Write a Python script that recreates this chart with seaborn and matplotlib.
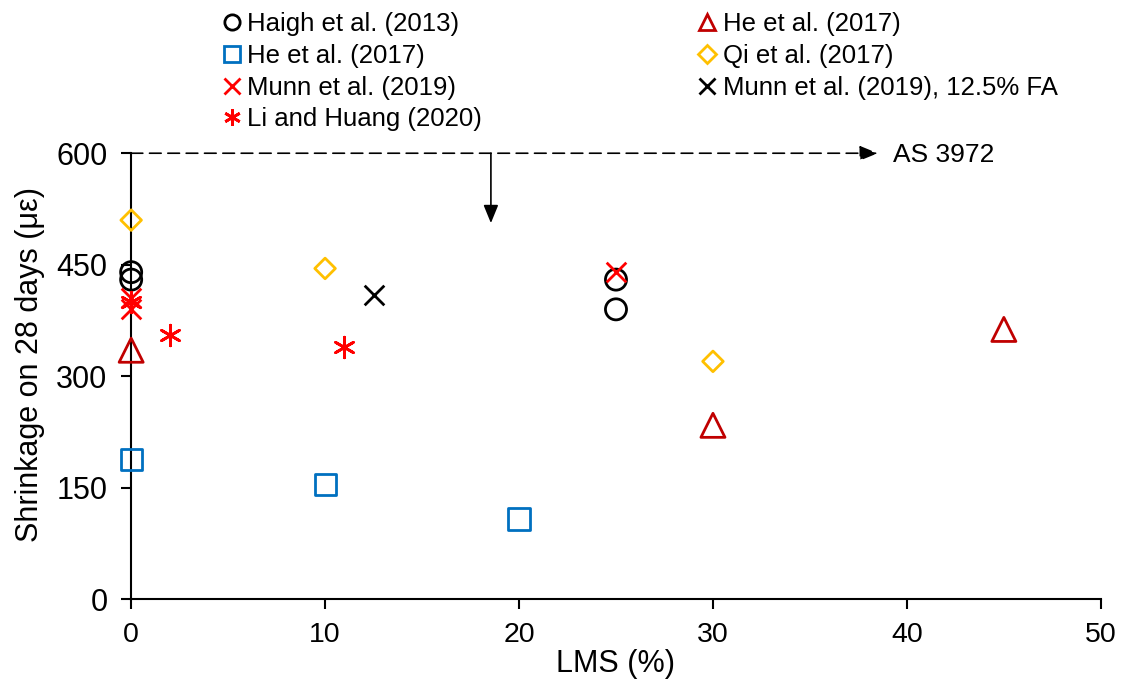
import matplotlib
matplotlib.use("Agg")
import matplotlib.pyplot as plt
import seaborn as sns
import pandas as pd
from matplotlib.lines import Line2D

sns.set_style("white")
plt.rcParams['font.family'] = ['Liberation Sans', 'DejaVu Sans']
plt.rcParams['text.color'] = 'black'
plt.rcParams['axes.labelcolor'] = 'black'
plt.rcParams['xtick.color'] = 'black'
plt.rcParams['ytick.color'] = 'black'

# data
haigh_x = [0, 0, 25, 25]
haigh_y = [440, 430, 430, 390]
he_tri_x = [0, 30, 45]
he_tri_y = [335, 234, 363]
he_sq_x = [0, 10, 20]
he_sq_y = [188, 155, 108]
qi_x = [0, 10, 30]
qi_y = [510, 445, 320]
munn_x = [0, 0, 25]
munn_y = [405, 390, 440]
munnfa_x = [12.5]
munnfa_y = [409]
li_x = [0, 2, 11]
li_y = [400, 355, 340]

labels = ["Haigh et al. (2013)", "He et al. (2017)", "He et al. (2017)", "Qi et al. (2017)",
          "Munn et al. (2019)", "Munn et al. (2019), 12.5% FA", "Li and Huang (2020)"]

series = [
    (haigh_x, haigh_y, "o", "black", True),
    (he_tri_x, he_tri_y, "^", "#C00000", True),
    (he_sq_x, he_sq_y, "s", "#0070C0", True),
    (qi_x, qi_y, "D", "#FFC000", True),
    (munn_x, munn_y, "x", "#FF0000", False),
    (munnfa_x, munnfa_y, "x", "black", False),
    (li_x, li_y, (6, 2, 0), "#FF0000", False),
]
sizes = {"o": 230, "^": 300, "s": 230, "D": 110, "x": 200}

fig = plt.figure(figsize=(11.21, 6.81), dpi=100)
ax = fig.add_axes([0.117, 0.120, 0.865, 0.655])

handles = []
for (xs, ys, m, c, hollow), lab in zip(series, labels):
    df = pd.DataFrame({"x": xs, "y": ys})
    s = sizes.get(m, 220) if not isinstance(m, tuple) else 220
    if hollow:
        sns.scatterplot(data=df, x="x", y="y", marker=m, s=s, facecolors="none",
                        edgecolor=c, linewidth=2, ax=ax, zorder=3, clip_on=False)
        h = Line2D([], [], marker=m, linestyle="none", markerfacecolor="none",
                   markeredgecolor=c, markeredgewidth=2.0,
                   markersize=11 if m != "D" else 9)
    else:
        sns.scatterplot(data=df, x="x", y="y", marker=m, s=s, color=c,
                        linewidth=2, ax=ax, zorder=3, clip_on=False)
        h = Line2D([], [], marker=m, linestyle="none", color=c,
                   markeredgewidth=2.0, markersize=12)
    handles.append(h)

ax.set_xlim(0, 50)
ax.set_ylim(0, 600)
ax.set_xticks([0, 10, 20, 30, 40, 50])
ax.set_yticks([0, 150, 300, 450, 600])
for sp in ["top", "right"]:
    ax.spines[sp].set_visible(False)
for sp in ["left", "bottom"]:
    ax.spines[sp].set_color("black")
    ax.spines[sp].set_linewidth(1.5)
ax.tick_params(axis="both", direction="out", length=7, width=1.5,
               left=True, bottom=True, colors="black")
ax.tick_params(axis="y", labelsize=22, pad=10)
ax.tick_params(axis="x", labelsize=20.5, pad=9)
ax.set_xlabel("LMS (%)", fontsize=22)
ax.xaxis.set_label_coords(0.5, -0.112)
ax.set_ylabel("Shrinkage on 28 days (με)", fontsize=22)
ax.yaxis.set_label_coords(-0.0885, 0.527)

# AS 3972 limit line with arrow
ax.annotate("", xy=(38.5, 600), xytext=(0, 600),
            arrowprops=dict(arrowstyle="-|>,head_length=1.1,head_width=0.45",
                            linestyle=(0, (7, 4)), color="black", lw=1.2,
                            shrinkA=0, shrinkB=0), annotation_clip=False)
ax.text(39.3, 598, "AS 3972", fontsize=19, va="center", ha="left")
ax.annotate("", xy=(18.55, 506), xytext=(18.55, 600),
            arrowprops=dict(arrowstyle="-|>,head_length=1.1,head_width=0.45",
                            color="black", lw=1.2, shrinkA=0, shrinkB=0),
            annotation_clip=False)

order = [0, 2, 4, 6, 1, 3, 5]
fig.legend([handles[i] for i in order], [labels[i] for i in order],
           ncol=2, loc="upper left", bbox_to_anchor=(0.1875, 0.997), frameon=False,
           fontsize=18.5, handletextpad=0.15, handlelength=0.9,
           columnspacing=8.3, labelspacing=0.3, borderaxespad=0)

fig.savefig("out.png", dpi=100)
